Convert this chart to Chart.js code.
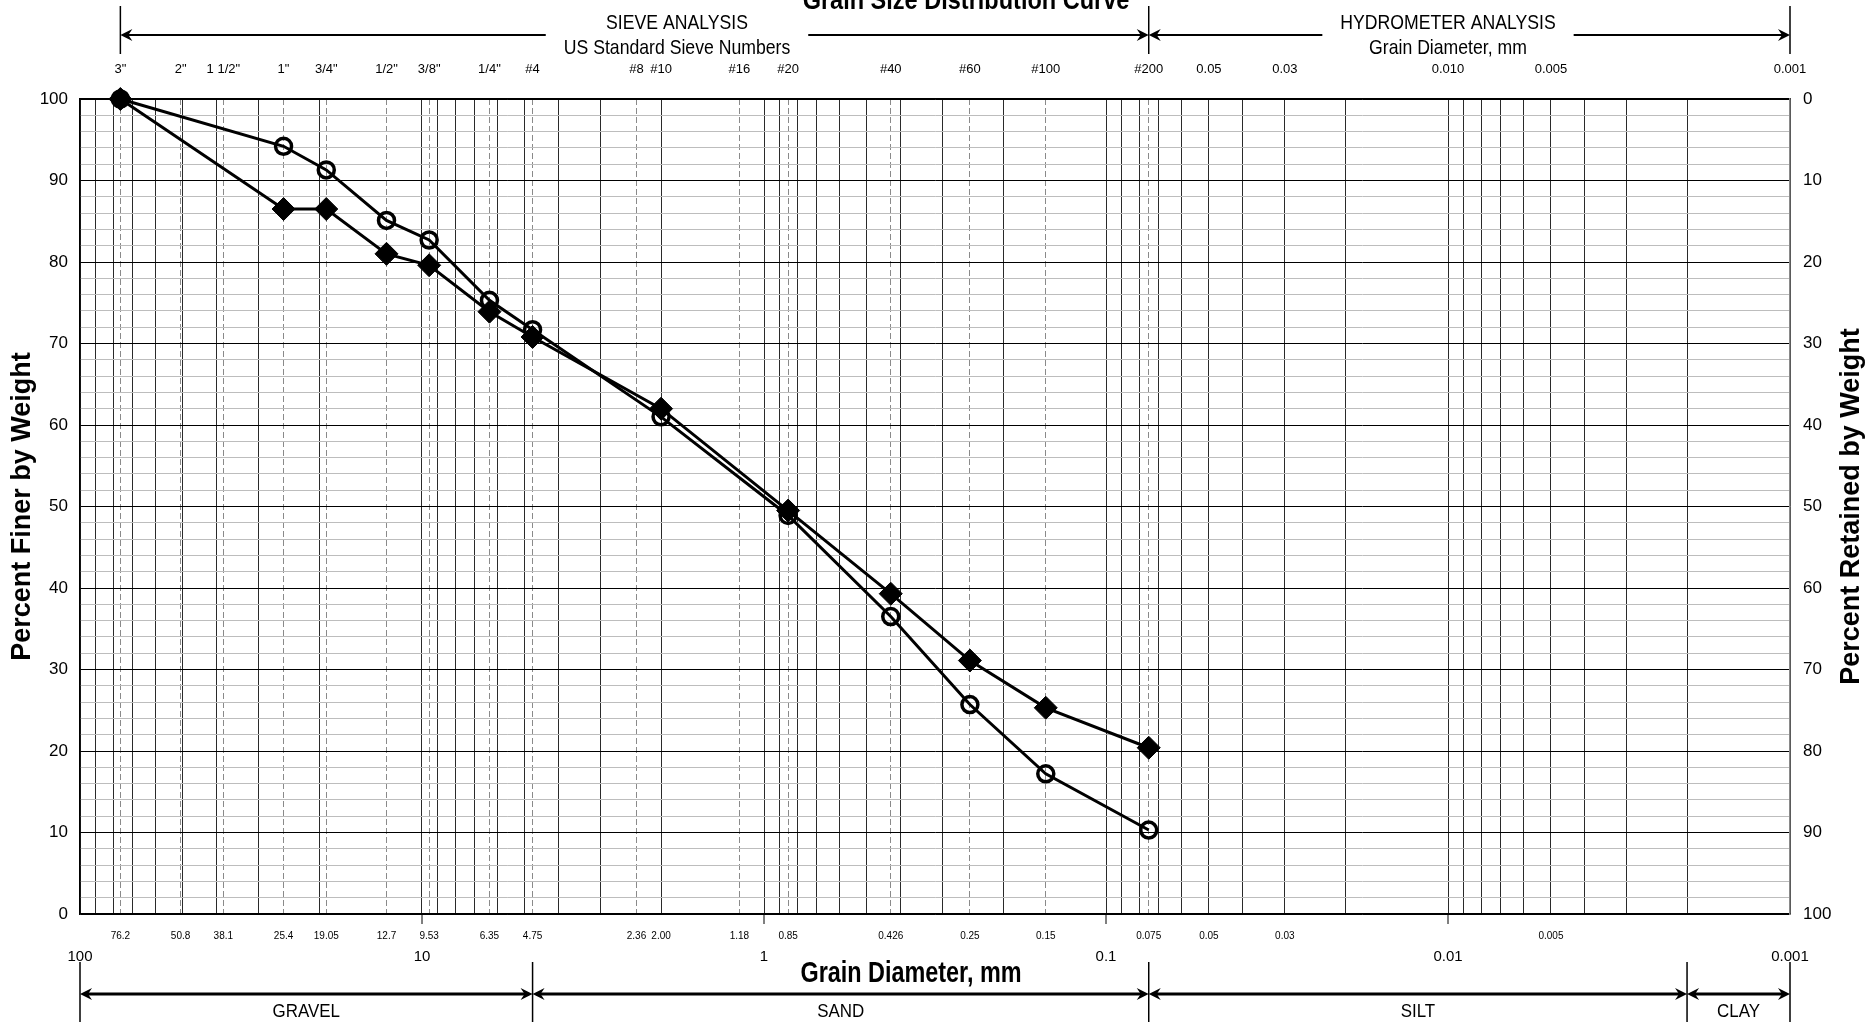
<!DOCTYPE html>
<html>
<head>
<meta charset="utf-8">
<title>Grain Size Distribution Curve</title>
<script src="https://cdn.jsdelivr.net/npm/chart.js@4.4.1/dist/chart.umd.min.js"></script>
<style>
  html, body { margin: 0; padding: 0; background: #fff; }
  #wrap { width: 1872px; height: 1022px; }
</style>
</head>
<body>
<div id="wrap"><canvas id="gsd" width="1872" height="1022"></canvas></div>
<script>
const NARROW = '"Liberation Sans Narrow", "Arial Narrow", "Liberation Sans", Arial, sans-serif';
const SANS = '"Liberation Sans", Arial, sans-serif';

// sieve openings (mm) and their names
const sieveSizes = [76.2, 50.8, 38.1, 25.4, 19.05, 12.7, 9.53, 6.35, 4.75, 2.36, 2.00, 1.18, 0.85, 0.426, 0.25, 0.15, 0.075];
const sieveNames = ['3"', '2"', '1 1/2"', '1"', '3/4"', '1/2"', '3/8"', '1/4"', '#4', '#8', '#10', '#16', '#20', '#40', '#60', '#100', '#200'];
const sieveMm = ['76.2', '50.8', '38.1', '25.4', '19.05', '12.7', '9.53', '6.35', '4.75', '2.36', '2.00', '1.18', '0.85', '0.426', '0.25', '0.15', '0.075'];

// hydrometer diameters shown on top and bottom
const hydroTopSizes = [0.05, 0.03, 0.01, 0.005, 0.001];
const hydroTopLabels = ['0.05', '0.03', '0.010', '0.005', '0.001'];
const hydroBottomSizes = [0.05, 0.03, 0.005];
const hydroBottomLabels = ['0.05', '0.03', '0.005'];

const decadeSizes = [100, 10, 1, 0.1, 0.01, 0.001];
const decadeLabels = ['100', '10', '1', '0.1', '0.01', '0.001'];
const retainedTicks = [0, 10, 20, 30, 40, 50, 60, 70, 80, 90, 100];

// soil classes: name, coarse limit, fine limit (mm)
const soilNames = ['GRAVEL', 'SAND', 'SILT', 'CLAY'];
const soilLimits = [100, 4.75, 0.075, 0.002, 0.001];

// test results
const testSizes = [76.2, 25.4, 19.05, 12.7, 9.53, 6.35, 4.75, 2.00, 0.85, 0.426, 0.25, 0.15, 0.075];
const finerCircle = [100, 94.2, 91.3, 85.1, 82.7, 75.3, 71.7, 61.0, 48.9, 36.5, 25.7, 17.2, 10.3];
const finerDiamond = [100, 86.5, 86.5, 81.0, 79.6, 73.9, 70.8, 62.0, 49.5, 39.3, 31.1, 25.3, 20.4];

// grid helpers
const logGrid = [];
[0.001, 0.01, 0.1, 1, 10].forEach(d => {
    for (let k = 1; k <= 9; k++) logGrid.push(+(k * d).toPrecision(3));
});
logGrid.push(100);
const pctGrid = [];
for (let p = 0; p <= 100; p += 2) pctGrid.push(p);

const topSizes = sieveSizes.concat(hydroTopSizes);
const topLabels = sieveNames.concat(hydroTopLabels);
const bottomSizes = sieveSizes.concat(hydroBottomSizes);
const bottomLabels = sieveMm.concat(hydroBottomLabels);

function labelFor(values, labels) {
    return function (value) {
        const i = values.findIndex(v => Math.abs(v - value) < 1e-9);
        return i < 0 ? '' : labels[i];
    };
}

function fixTicks(values) {
    return function (scale) {
        scale.ticks = values.map(v => ({ value: v }));
    };
}

// condensed text: squeeze horizontally like the narrow font of the original
function squeezeText(ctx, text, x, y, sx) {
    ctx.save();
    ctx.translate(x, y);
    ctx.scale(sx, 1);
    ctx.fillText(text, 0, 0);
    ctx.restore();
}

function arrowHead(ctx, x, y, dir) {
    ctx.beginPath();
    ctx.moveTo(x, y);
    ctx.lineTo(x + dir * 12, y - 6);
    ctx.lineTo(x + dir * 8, y);
    ctx.lineTo(x + dir * 12, y + 6);
    ctx.closePath();
    ctx.fill();
}

function rangeArrow(ctx, x1, x2, y, lw, gap) {
    ctx.lineWidth = lw;
    ctx.beginPath();
    if (gap) {
        ctx.moveTo(x1 + 4, y); ctx.lineTo(gap[0], y);
        ctx.moveTo(gap[1], y); ctx.lineTo(x2 - 4, y);
    } else {
        ctx.moveTo(x1 + 4, y); ctx.lineTo(x2 - 4, y);
    }
    ctx.stroke();
    arrowHead(ctx, x1, y, 1);
    arrowHead(ctx, x2, y, -1);
}

function vline(ctx, x, y1, y2, lw) {
    ctx.lineWidth = lw || 1.5;
    ctx.beginPath();
    ctx.moveTo(x, y1);
    ctx.lineTo(x, y2);
    ctx.stroke();
}

const annotate = {
    id: 'annotate',
    afterDraw(chart) {
        const ctx = chart.ctx;
        const xs = chart.scales.x;
        const px = v => xs.getPixelForValue(v);
        const area = chart.chartArea;
        ctx.save();
        ctx.fillStyle = '#000';
        ctx.strokeStyle = '#000';
        ctx.textAlign = 'center';

        // main title, cut by the top edge
        ctx.font = 'bold 28px ' + SANS;
        ctx.textBaseline = 'alphabetic';
        squeezeText(ctx, 'Grain Size Distribution Curve', 966, 9, 0.84);

        // top: sieve / hydrometer ranges
        ctx.textBaseline = 'middle';
        ctx.font = '21px ' + SANS;
        const sq = 0.84;
        const ranges = [
            [px(76.2), px(0.075), 677, ['SIEVE ANALYSIS', 'US Standard Sieve Numbers']],
            [px(0.075), px(0.001), 1448, ['HYDROMETER ANALYSIS', 'Grain Diameter, mm']]
        ];
        ranges.forEach(([a, b, cx, txt]) => {
            const w = sq * Math.max(ctx.measureText(txt[0]).width, ctx.measureText(txt[1]).width);
            rangeArrow(ctx, a, b, 35, 2, [cx - w / 2 - 18, cx + w / 2 + 18]);
            squeezeText(ctx, txt[0], cx, 23, sq);
            squeezeText(ctx, txt[1], cx, 48, sq);
        });
        [px(76.2), px(0.075), px(0.001)].forEach(x => vline(ctx, x, 6, 54));

        // small ticks under the frame at the decades
        decadeSizes.slice(1, 5).forEach(v => vline(ctx, px(v), area.bottom, area.bottom + 10, 1));

        // bottom: soil classes
        ctx.font = '18px ' + SANS;
        for (let i = 0; i < soilNames.length; i++) {
            const a = px(soilLimits[i]), b = px(soilLimits[i + 1]);
            rangeArrow(ctx, a, b, 994, 3);
            squeezeText(ctx, soilNames[i], (a + b) / 2, 1012, 0.94);
        }
        soilLimits.forEach(v => vline(ctx, px(v), 962, 1022));

        // x title
        ctx.font = 'bold 30px ' + SANS;
        squeezeText(ctx, 'Grain Diameter, mm', 911, 974, 0.78);

        // right title (reads bottom to top)
        ctx.translate(1852, (area.top + area.bottom) / 2);
        ctx.rotate(-Math.PI / 2);
        ctx.font = 'bold 27px ' + SANS;
        ctx.fillText('Percent Retained by Weight', 0, 0);
        ctx.restore();
    }
};

const logAxis = {
    type: 'logarithmic',
    reverse: true,
    min: 0.001,
    max: 100
};

new Chart(document.getElementById('gsd'), {
    type: 'line',
    data: {
        datasets: [
            {
                label: 'Sample 1',
                data: testSizes.map((d, i) => ({ x: d, y: finerCircle[i] })),
                xAxisID: 'x', yAxisID: 'y',
                borderColor: '#000', borderWidth: 3, tension: 0,
                pointStyle: 'circle', pointRadius: 8, pointBorderWidth: 3.5,
                pointBackgroundColor: 'rgba(0,0,0,0)', pointBorderColor: '#000',
                clip: false
            },
            {
                label: 'Sample 2',
                data: testSizes.map((d, i) => ({ x: d, y: finerDiamond[i] })),
                xAxisID: 'x', yAxisID: 'y',
                borderColor: '#000', borderWidth: 3, tension: 0,
                pointStyle: 'rectRot', pointRadius: 11.5, pointBorderWidth: 1,
                pointBackgroundColor: '#000', pointBorderColor: '#000',
                clip: false
            }
        ]
    },
    options: {
        responsive: false,
        animation: false,
        layout: { padding: { left: 0, right: 0, top: 0, bottom: 35 } },
        plugins: { legend: { display: false }, tooltip: { enabled: false } },
        scales: {
            x: {
                ...logAxis,
                position: 'bottom',
                weight: 0,
                afterBuildTicks: fixTicks(bottomSizes),
                afterFit: s => { s.height = 30; },
                grid: {
                    drawTicks: false,
                    lineWidth: 1,
                    color: c => sieveSizes.includes(c.tick.value) ? '#8a8a8a' : 'rgba(0,0,0,0)'
                },
                border: { display: true, color: '#000', width: 1.5, dash: [6, 3] },
                ticks: {
                    autoSkip: false, maxRotation: 0, minRotation: 0, padding: 16, color: '#000',
                    font: { family: NARROW, size: 10 },
                    callback: labelFor(bottomSizes, bottomLabels)
                }
            },
            xMain: {
                ...logAxis,
                position: 'bottom',
                weight: 1,
                afterBuildTicks: fixTicks(logGrid),
                afterFit: s => { s.height = 43; },
                grid: { drawTicks: false, lineWidth: 1, color: '#2a2a2a' },
                border: { display: false },
                ticks: {
                    autoSkip: false, maxRotation: 0, minRotation: 0, padding: 4, color: '#000',
                    font: { family: NARROW, size: 15 },
                    callback: labelFor(decadeSizes, decadeLabels)
                }
            },
            xTop: {
                ...logAxis,
                position: 'top',
                afterBuildTicks: fixTicks(topSizes),
                afterFit: s => { s.height = 99; },
                grid: { drawOnChartArea: false, drawTicks: false },
                border: { display: true, color: '#000', width: 1.5 },
                ticks: {
                    autoSkip: false, maxRotation: 0, minRotation: 0, padding: 22, color: '#000',
                    font: { family: NARROW, size: 13 },
                    callback: labelFor(topSizes, topLabels)
                }
            },
            y: {
                position: 'left',
                min: 0, max: 100,
                afterBuildTicks: fixTicks(pctGrid),
                afterFit: s => { s.width = 80; },
                grid: {
                    drawTicks: false, lineWidth: 1,
                    color: c => c.tick.value % 10 === 0 ? '#000' : '#bdbdbd'
                },
                border: { display: true, color: '#000', width: 1.5 },
                title: {
                    display: true, text: 'Percent Finer by Weight', color: '#000',
                    font: { family: SANS, size: 27, weight: 'bold' },
                    padding: { top: 6, bottom: 0 }
                },
                ticks: {
                    autoSkip: false, padding: 12, color: '#000',
                    font: { family: NARROW, size: 17 },
                    callback: v => v % 10 === 0 ? String(v) : ''
                }
            },
            y2: {
                position: 'right',
                min: 0, max: 100, reverse: true,
                afterBuildTicks: fixTicks(retainedTicks),
                afterFit: s => { s.width = 82; },
                grid: { drawOnChartArea: false, drawTicks: false },
                border: { display: true, color: '#8a8a8a', width: 1.5 },
                ticks: {
                    autoSkip: false, padding: 13, color: '#000',
                    font: { family: NARROW, size: 17 },
                    callback: v => String(v)
                }
            }
        }
    },
    plugins: [annotate]
});
</script>
</body>
</html>
